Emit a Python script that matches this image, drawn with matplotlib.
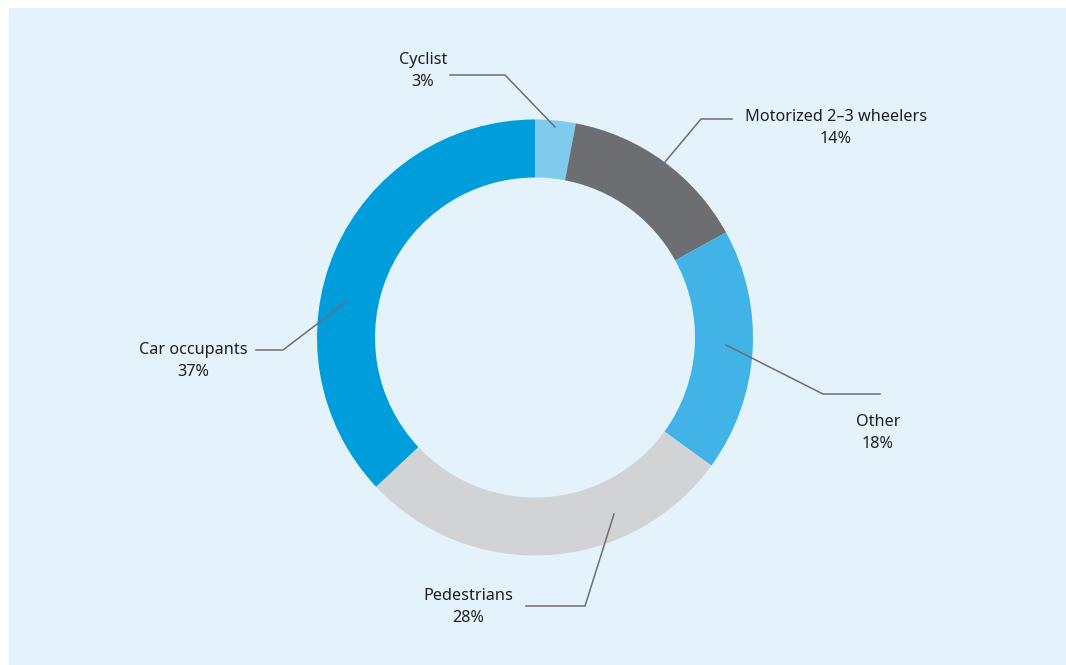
import matplotlib
matplotlib.use("Agg")
import matplotlib.pyplot as plt
from matplotlib.patches import Rectangle

labels = ["Cyclist", "Motorized 2\u20133 wheelers", "Other", "Pedestrians", "Car occupants"]
shares = [3, 14, 18, 28, 37]
colors = ["#7fcbee", "#6d6e71", "#41b3e6", "#d1d3d4", "#009ddc"]

# leader lines: point on ring -> elbow -> end, label position (pixel coords, y down)
leaders = [
    [(555, 127), (505, 75), (450, 75)],
    [(665, 162), (701, 119), (732, 119)],
    [(726, 345), (823, 394), (880, 394)],
    [(614, 514), (585, 606), (526, 606)],
    [(346, 302), (283, 350), (256, 350)],
]
label_pos = [(423, 71), (836, 128), (878, 433), (468, 607), (193, 361)]

W, H = 1066, 665
fig = plt.figure(figsize=(W / 100, H / 100), dpi=100)
fig.patch.set_facecolor("white")
ax = fig.add_axes([0, 0, 1, 1])

ax.add_patch(Rectangle((9, 0), W - 9, H - 8, facecolor="#e4f3fb", edgecolor="none", zorder=0))

cx, cy, R = 535, H - 337.5, 218
ax.pie(shares, colors=colors, startangle=90, counterclock=False, center=(cx, cy), radius=R,
       wedgeprops=dict(width=58, edgecolor="none", linewidth=0), frame=True)
ax.set_xlim(0, W)
ax.set_ylim(0, H)
ax.set_aspect("auto")
ax.axis("off")

for pts in leaders:
    xs = [p[0] for p in pts]
    ys = [H - p[1] for p in pts]
    ax.plot(xs, ys, color="#6d6e71", lw=1.1, zorder=5)

for lab, s, (x, y) in zip(labels, shares, label_pos):
    ax.text(x, H - y, f"{lab}\n{s}%", ha="center", va="center", fontsize=11.7,
            family="Noto Sans", color="#1e1e1e", linespacing=1.55, zorder=6)

fig.savefig("out.png", dpi=100)
